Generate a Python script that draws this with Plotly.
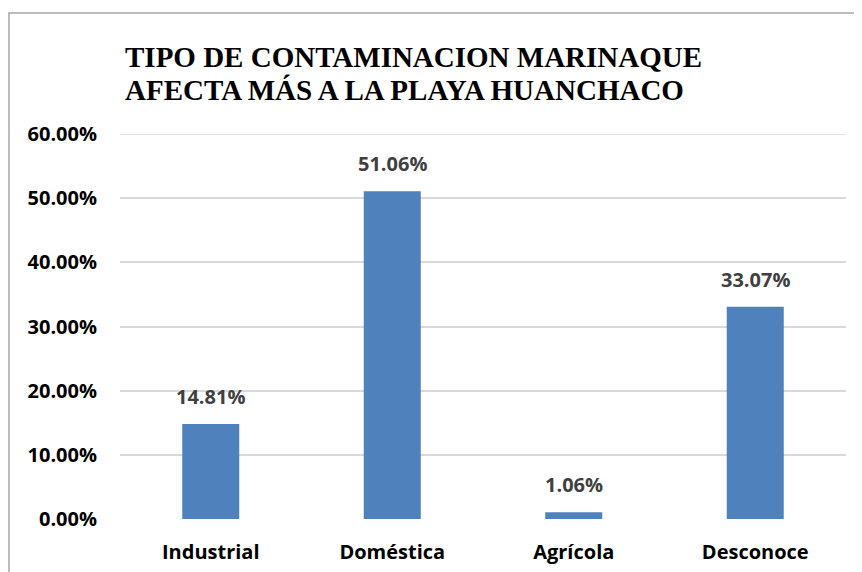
import plotly.graph_objects as go

categories = ["Industrial", "Doméstica", "Agrícola", "Desconoce"]
values = [0.1481, 0.5106, 0.0106, 0.3307]
value_labels = ["14.81%", "51.06%", "1.06%", "33.07%"]
title_lines = ["TIPO DE CONTAMINACION MARINAQUE", "AFECTA MÁS A LA PLAYA HUANCHACO"]
y_max = 0.6

# page offset compensation (browser body margin)
OFF = 8
W, H = 862, 572
L, T = 120 - OFF, 134 - OFF
pw, ph = 726, 385
R, B = W - L - pw, H - T - ph

fig = go.Figure()
fig.add_trace(go.Bar(
    x=categories, y=values,
    marker=dict(color="#4F81BD", line=dict(width=0)),
    width=0.314,
    hoverinfo="skip",
))

for c, v, t in zip(categories, values, value_labels):
    fig.add_annotation(x=c, y=v, text=t, showarrow=False, xref="x", yref="y",
                       yanchor="bottom", yshift=12,
                       font=dict(family="Open Sans", size=20, color="#404040", weight="bold"))

# title lines as separate annotations (tighter line spacing)
for line, cy in zip(title_lines, [56.5 - OFF, 89.7 - OFF]):
    fig.add_annotation(text=line, showarrow=False, xref="paper", yref="paper",
                       x=(123 - OFF - L) / pw, xanchor="left",
                       y=1 + (T - cy) / ph, yanchor="middle",
                       font=dict(family="Liberation Serif", size=29, color="black", weight="bold"))

# top gridline (plotly hides the one at the range edge)
fig.add_shape(type="line", xref="paper", yref="y", x0=0, x1=1, y0=y_max, y1=y_max,
              line=dict(color="#D9D9D9", width=1.5), layer="below")

# outer frame (chart area border)
fig.add_shape(type="rect", xref="paper", yref="paper",
              x0=(1 - L) / pw, x1=(W + 20 - L) / pw,
              y0=-(H + 20 - T - ph) / ph, y1=1 + (T - (13 - OFF)) / ph,
              line=dict(color="#A6A6A6", width=1.5), fillcolor="rgba(0,0,0,0)", layer="below")

fig.update_layout(
    width=W, height=H,
    margin=dict(l=L, r=R, t=T, b=B),
    paper_bgcolor="white", plot_bgcolor="white",
    showlegend=False,
    xaxis=dict(showgrid=False, showline=False, ticks="outside", ticklen=15, tickcolor="rgba(0,0,0,0)",
               tickfont=dict(family="Open Sans", size=20, color="black", weight="bold")),
    yaxis=dict(range=[0, y_max], dtick=0.1, tickformat=".2%", showgrid=True, gridcolor="#D9D9D9",
               gridwidth=1.5, zeroline=False, showline=False, ticks="outside", ticklen=18,
               tickcolor="rgba(0,0,0,0)",
               tickfont=dict(family="Open Sans", size=20, color="black", weight="bold")),
)

fig.write_html("out.html")
